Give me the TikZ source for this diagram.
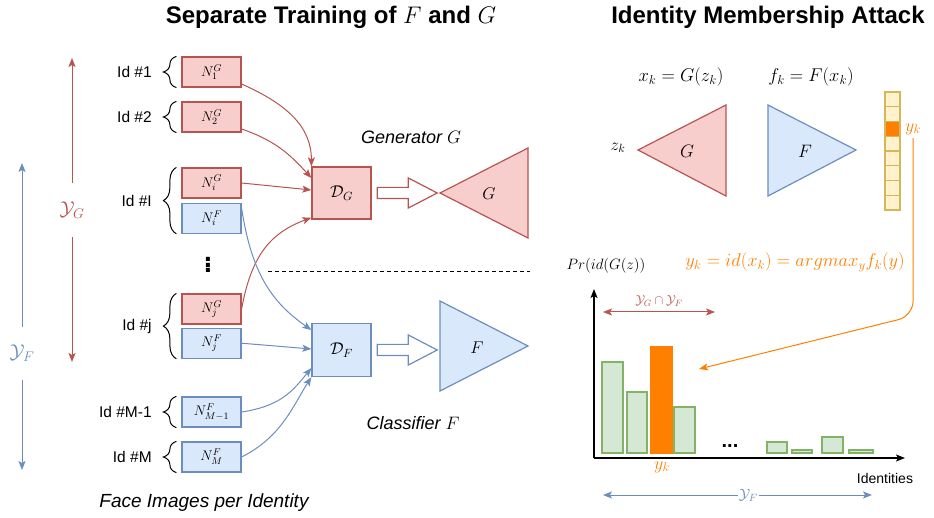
\RequirePackage{fix-cm}
\documentclass[tikz,border=0pt]{standalone}
\usepackage{amsmath}
\usepackage{amssymb}
\usepackage{fontspec}
\setmainfont{Liberation Sans}
\usepackage{tikz}
\usetikzlibrary{calc,positioning,shapes,arrows.meta,decorations.pathreplacing}

\definecolor{gred}{HTML}{B85450}
\definecolor{gredfill}{HTML}{F8CECC}
\definecolor{fblue}{HTML}{6C8EBF}
\definecolor{fbluefill}{HTML}{DAE8FC}
\definecolor{bargreen}{HTML}{82B366}
\definecolor{bargreenfill}{HTML}{D5E8D4}
\definecolor{vecyellow}{HTML}{D6B656}
\definecolor{vecyellowfill}{HTML}{FFF2CC}
\definecolor{idorange}{HTML}{FF8000}

\newcommand{\fsz}[1]{\fontsize{#1}{#1}\selectfont}

\tikzset{
	>={Stealth[length=9pt,width=7pt,inset=2pt]},
	title/.style={font=\bfseries\fsz{24}},
	gnbox/.style={draw=gred,fill=gredfill,line width=1.2pt,minimum width=59pt,minimum height=30pt,inner sep=0pt,font=\fsz{14}},
	fnbox/.style={gnbox,draw=fblue,fill=fbluefill},
	gconn/.style={->,draw=gred,line width=1pt},
	fconn/.style={->,draw=fblue,line width=1pt},
	idtxt/.style={anchor=east,inner sep=0pt,font=\fsz{15.5}},
	idbrace/.style={decorate,decoration={brace,amplitude=13pt},line width=1pt},
	hollowarr/.style={single arrow,fill=white,line width=1.2pt,minimum height=60pt,inner xsep=0pt,inner ysep=5pt,
		single arrow head extend=9.5pt,single arrow tip angle=55},
	netlabel/.style={font=\fsz{17}},
	gshape/.style={draw=gred,fill=gredfill,line width=1.2pt},
	fshape/.style={draw=fblue,fill=fbluefill,line width=1.2pt},
	veccell/.style={draw=vecyellow,fill=vecyellowfill,line width=1.2pt,minimum width=15pt,minimum height=14.75pt,inner sep=0pt},
	bar/.style={draw=bargreen,fill=bargreenfill,line width=1.2pt},
	axisarr/.style={->,line width=1.2pt}
}

\begin{document}
\begin{tikzpicture}[x=1pt,y=-1pt]
	\useasboundingbox (0,0) rectangle (934,518);

	\node[title] (ttrain) at (331,17) {Separate Training of $F$ and $G$};
	\node[title] (tattack) at (768,17) {Identity Membership Attack};

	\begin{scope}
		\node[gnbox] (n1g) at (211.5,72) {$N^G_1$};
		\node[gnbox] (n2g) at (211.5,117) {$N^G_2$};
		\node[gnbox] (nig) at (211.5,183) {$N^G_i$};
		\node[fnbox,below=4pt of nig] (nif) {$N^F_i$};
		\node[font=\bfseries\fsz{28},inner sep=0pt] (vdots) at (208,262) {$\vdots$};
		\node[gnbox] (njg) at (211.5,309) {$N^G_j$};
		\node[fnbox,below=3pt of njg] (njf) {$N^F_j$};
		\node[fnbox] (nm1f) at (211.5,412) {$N^F_{M-1}$};
		\node[fnbox] (nmf) at (211.5,457) {$N^F_M$};

		\foreach \b/\t in {n1g/n1g,n2g/n2g,nif/nig,njf/njg,nm1f/nm1f,nmf/nmf}
			\draw[idbrace] ([xshift=-5pt]\b.south west) -- ([xshift=-5pt]\t.north west);

		\coordinate (idi) at ($(nig.west)!0.5!(nif.west)$);
		\coordinate (idj) at ($(njg.west)!0.5!(njf.west)$);
		\node[idtxt,left=29.5pt of n1g] (id1) {Id \#1};
		\node[idtxt,left=29.5pt of n2g] (id2) {Id \#2};
		\node[idtxt,left=29.5pt of idi] (idI) {Id \#I};
		\node[idtxt,left=29.5pt of idj] (idJ) {Id \#j};
		\node[idtxt,left=29.5pt of nm1f] (idM1) {Id \#M-1};
		\node[idtxt,left=29.5pt of nmf] (idM) {Id \#M};

		\node[font=\itshape\fsz{19}] (faces) at (204,503) {Face Images per Identity};

		\coordinate (ygtop) at (72,58);
		\coordinate (ygbot) at (72,362);
		\coordinate (yftop) at (22,163);
		\coordinate (yfbot) at (22,470);
		\draw[<->,gred,line width=1pt] (ygtop) -- (ygbot)
			node[pos=0.5,fill=white,text=gred,minimum height=54pt,inner xsep=1pt,font=\fsz{20}] (yg) {$\mathcal{Y}_G$};
		\draw[<->,fblue,line width=1pt] (yftop) -- (yfbot)
			node[pos=0.62,fill=white,text=fblue,minimum height=53pt,inner xsep=1pt,font=\fsz{20}] (yf) {$\mathcal{Y}_F$};
	\end{scope}

	\begin{scope}
		\node[gnbox,minimum height=52pt,font=\fsz{17}] (dg) at (341.5,193) {$\mathcal{D}_G$};
		\node[fnbox,minimum height=53pt,font=\fsz{17}] (df) at (341.5,350) {$\mathcal{D}_F$};
		\node[hollowarr,draw=gred,right=5pt of dg] (dgarr) {};
		\node[hollowarr,draw=fblue,right=5pt of df] (dfarr) {};

		\draw[gshape] (440,193) -- (528,148) -- (528,238) -- cycle;
		\node[netlabel] (gnet) at (489,194) {$G$};
		\draw[fshape] (440,301) -- (528,346) -- (440,391) -- cycle;
		\node[netlabel] (fnet) at (477,348) {$F$};

		\node[font=\itshape\fsz{18}] (gen) at (411,137) {Generator $G$};
		\node[font=\itshape\fsz{18}] (cls) at (413,423) {Classifier $F$};

		\draw[dashed,dash pattern=on 4pt off 3pt,line width=1pt] (268,272) -- (530,272);

		\draw[gconn] ([yshift=-12pt]n1g.east) .. controls +(45,20) and +(0,-40) .. (dg.north west);
		\draw[gconn] ([yshift=-12pt]n2g.east) .. controls +(35,12) and +(-20,-22) .. ([yshift=15pt]dg.west);
		\draw[gconn] (nig.east) -- ([yshift=3pt]dg.west);
		\draw[gconn] (njg.east) .. controls +(10,-55) and +(-40,15) .. ([yshift=2pt]dg.south west);

		\draw[fconn] ([yshift=10pt]nif.east) .. controls +(10,65) and +(-40,-28) .. ([yshift=20pt]df.west);
		\draw[fconn] (njf.east) -- ([yshift=1pt]df.west);
		\draw[fconn] (nm1f.east) .. controls +(40,-6) and +(-18,22) .. ([yshift=-18pt]df.west);
		\draw[fconn] (nmf.east) .. controls +(40,-20) and +(-18,28) .. (df.south west);
	\end{scope}

	\begin{scope}
		\node[font=\fsz{18.5}] (xk) at (681,77) {$x_k = G(z_k)$};
		\node[font=\fsz{18.5}] (fk) at (811,77) {$f_k = F(x_k)$};
		\draw[gshape] (638,150) -- (726,105) -- (726,196) -- cycle;
		\node[font=\fsz{18}] (gatt) at (687,151) {$G$};
		\draw[fshape] (768,105) -- (856,150) -- (768,196) -- cycle;
		\node[font=\fsz{18}] (fatt) at (805,151) {$F$};
		\node[font=\fsz{17}] (zk) at (618,148) {$z_k$};

		\foreach \i in {0,...,7}
			\node[veccell] (cell\i) at (892.5,{99.4+14.75*\i}) {};
		\node[veccell,fill=idorange] (cellk) at (cell2) {};
		\node[right=1pt of cellk,text=idorange,font=\fsz{18}] (yklab) {$y_k$};

		\node[text=idorange,font=\fsz{18.5}] (argmax) at (795,262) {$y_k = id(x_k) = argmax_y f_k(y)$};
		\node[font=\fsz{15}] (prlab) at (606,266) {$Pr(id(G(z))$};

		\coordinate (orig) at (594,458);
		\coordinate (ytip) at (594,289);
		\coordinate (xtip) at (905,458);
		\draw[axisarr] (orig) -- (ytip);
		\draw[axisarr] (orig) -- (xtip);
		\node[font=\fsz{14}] (idents) at (885,478) {Identities};

		\foreach \xa/\xb/\yt in {602/623/362,627/647/392,674/695/407,767/787/442,792/812/450,822/843/437,849/873/450}
			\draw[bar] (\xa,453) rectangle (\xb,\yt);
		\draw[draw=idorange,fill=idorange,line width=1.2pt] (651,453) rectangle (672,347);
		\node[font=\bfseries\fsz{20}] (bardots) at (730,446) {...};
		\node[text=idorange,font=\fsz{18}] (ykbar) at (662,467) {$y_k$};

		\coordinate (ygfl) at (603,312);
		\coordinate (ygfr) at (715,312);
		\draw[<->,gred,line width=1pt] (ygfl) -- (ygfr)
			node[midway,above=2pt,text=gred,font=\fsz{13}] (ygf) {$\mathcal{Y}_G\cap\mathcal{Y}_F$};
		\coordinate (yfl) at (603,495);
		\coordinate (yfr) at (872,495);
		\draw[<->,fblue,line width=1pt] (yfl) -- (yfr)
			node[pos=0.54,fill=white,text=fblue,inner sep=1pt,font=\fsz{15}] (yfc) {$\mathcal{Y}_F$};

		\coordinate (turn) at (yklab.south |- 0,316);
		\coordinate (pick) at (699,369);
		\draw[->,idorange,line width=1pt,rounded corners=15pt] (yklab.south) -- (turn) -- (pick);
	\end{scope}
\end{tikzpicture}
\end{document}
